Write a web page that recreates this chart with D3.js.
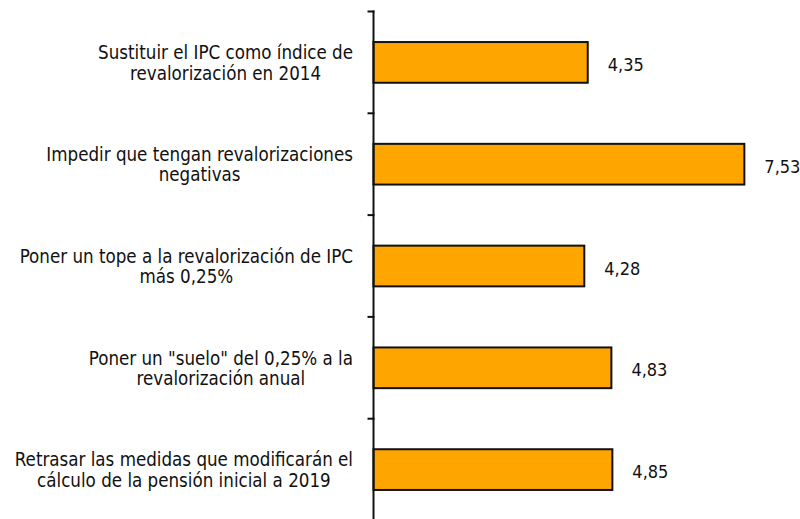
<!DOCTYPE html>
<html>
<head>
<meta charset="utf-8">
<script src="https://cdn.jsdelivr.net/npm/d3@7"></script>
<style>
  html, body { margin: 0; padding: 0; background: #fff; }
  svg { display: block; }
  text { font-family: "DejaVu Sans Condensed", "DejaVu Sans", Verdana, sans-serif; font-stretch: condensed; fill: #111; }
</style>
</head>
<body>
<svg id="chart" width="800" height="519"></svg>
<script>
// Measures, one label (split into lines) per bar
const categories = [
  ["Sustituir el IPC como índice de", "revalorización en 2014"],
  ["Impedir que tengan revalorizaciones", "negativas"],
  ["Poner un tope a la revalorización de IPC", "más 0,25%"],
  ["Poner un \"suelo\" del 0,25% a la", "revalorización anual"],
  ["Retrasar las medidas que modificarán el", "cálculo de la pensión inicial a 2019"]
];
const values = [4.35, 7.53, 4.28, 4.83, 4.85];

const axisX = 373.5;
const plotTop = 11.5, plotBottom = 520.5;
const labelRight = 353;
const catFont = 18.6;
const valFont = 18;

const svg = d3.select("#chart");

const x = d3.scaleLinear().domain([0, 8]).range([axisX, axisX + 8 * 49.25]);
const y = d3.scaleBand()
  .domain(d3.range(values.length))
  .range([plotTop, plotBottom])
  .paddingInner(0.6)
  .paddingOuter(0.3);

const fmt = v => d3.format(".2f")(v).replace(".", ",");

// Bars
svg.append("g").selectAll("rect")
  .data(values)
  .join("rect")
  .attr("x", x(0))
  .attr("y", (d, i) => y(i))
  .attr("width", d => x(d) - x(0))
  .attr("height", y.bandwidth())
  .attr("fill", "#FFA500")
  .attr("stroke", "#111")
  .attr("stroke-width", 2);

// Value labels
svg.append("g").selectAll("text")
  .data(values)
  .join("text")
  .attr("x", d => x(d) + 20)
  .attr("y", (d, i) => y(i) + y.bandwidth() / 2 + 8.5)
  .style("font-size", valFont + "px")
  .text(d => fmt(d));

// Vertical axis with ticks on band boundaries
const axis = svg.append("g");
axis.append("line")
  .attr("x1", axisX).attr("x2", axisX)
  .attr("y1", plotTop - 1).attr("y2", plotBottom)
  .attr("stroke", "#111").attr("stroke-width", 2);
const bounds = d3.range(values.length + 1).map(i => plotTop + i * y.step());
axis.selectAll("line.tick")
  .data(bounds)
  .join("line")
  .attr("class", "tick")
  .attr("x1", axisX - 6).attr("x2", axisX + 1)
  .attr("y1", d => d).attr("y2", d => d)
  .attr("stroke", "#111").attr("stroke-width", 2);

// Category labels: lines centred within a block that is right-aligned to the axis
const lineH = 20.5;
const labels = svg.append("g");
categories.forEach((lines, i) => {
  const g = labels.append("g");
  const texts = lines.map((s, j) => g.append("text")
    .style("font-size", catFont + "px")
    .attr("text-anchor", "middle")
    .attr("y", y(i) + y.bandwidth() / 2 + (j - (lines.length - 1) / 2) * lineH + 7)
    .text(s));
  const wMax = d3.max(texts, t => t.node().getComputedTextLength());
  texts.forEach(t => t.attr("x", labelRight - wMax / 2));
});
</script>
</body>
</html>
